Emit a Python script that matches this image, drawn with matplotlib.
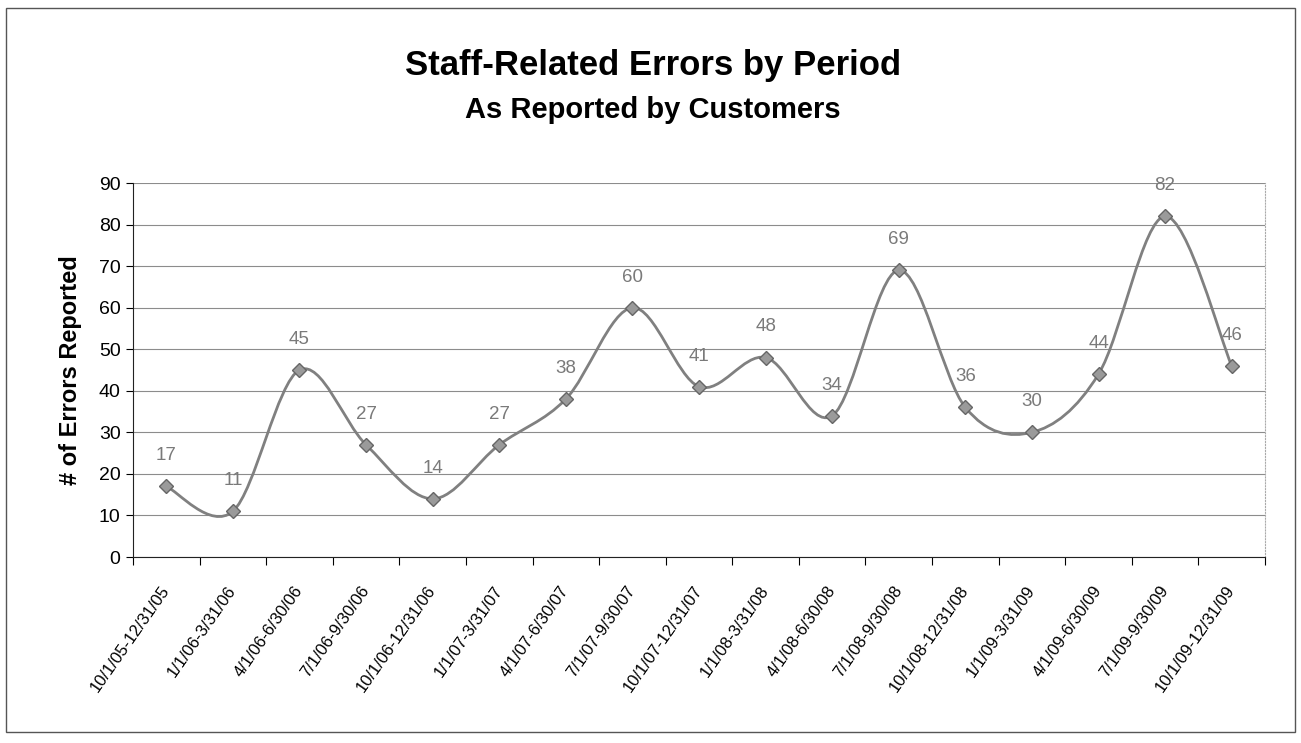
import matplotlib
matplotlib.use("Agg")
import matplotlib.pyplot as plt
from matplotlib.path import Path
from matplotlib.patches import PathPatch, Rectangle

plt.rcParams['font.family'] = ['Liberation Sans', 'DejaVu Sans']

periods = ["10/1/05-12/31/05", "1/1/06-3/31/06", "4/1/06-6/30/06", "7/1/06-9/30/06",
           "10/1/06-12/31/06", "1/1/07-3/31/07", "4/1/07-6/30/07", "7/1/07-9/30/07",
           "10/1/07-12/31/07", "1/1/08-3/31/08", "4/1/08-6/30/08", "7/1/08-9/30/08",
           "10/1/08-12/31/08", "1/1/09-3/31/09", "4/1/09-6/30/09", "7/1/09-9/30/09",
           "10/1/09-12/31/09"]
errors = [17, 11, 45, 27, 14, 27, 38, 60, 41, 48, 34, 69, 36, 30, 44, 82, 46]
y_ticks = [0, 10, 20, 30, 40, 50, 60, 70, 80, 90]

line_col = "#808080"

fig = plt.figure(figsize=(13.01, 7.43), dpi=100)
ax = fig.add_axes([133 / 1301, 1 - 557 / 743, 1132 / 1301, 374 / 743])

# outer chart frame
fig.patches.append(Rectangle((6 / 1301, 1 - 732 / 743), 1289 / 1301, 724 / 743,
                             transform=fig.transFigure, fill=False,
                             edgecolor="#555555", linewidth=1.0))

x = list(range(len(errors)))

# smoothed line like Excel (Catmull-Rom as cubic Bezier)
verts = [(x[0], errors[0])]
codes = [Path.MOVETO]
n = len(errors)
for i in range(n - 1):
    x0, y0 = (x[i - 1], errors[i - 1]) if i > 0 else (x[i], errors[i])
    x1, y1 = x[i], errors[i]
    x2, y2 = x[i + 1], errors[i + 1]
    x3, y3 = (x[i + 2], errors[i + 2]) if i + 2 < n else (x2, y2)
    c1 = (x1 + (x2 - x0) / 6, y1 + (y2 - y0) / 6)
    c2 = (x2 - (x3 - x1) / 6, y2 - (y3 - y1) / 6)
    verts += [c1, c2, (x2, y2)]
    codes += [Path.CURVE4] * 3
ax.add_patch(PathPatch(Path(verts, codes), facecolor="none",
                       edgecolor=line_col, linewidth=2.0, zorder=3))
ax.plot(x, errors, linestyle="none", marker="D", markersize=7,
        markerfacecolor="#9a9a9a", markeredgecolor="#666666", zorder=4)

for xi, v in zip(x, errors):
    ax.annotate(str(v), (xi, v), xytext=(0, 22), textcoords="offset points",
                ha="center", va="center", fontsize=13.5, color="#7a7a7a")

ax.set_xlim(-0.5, n - 0.5)
ax.set_ylim(0, 90)
ax.set_yticks(y_ticks)
ax.tick_params(axis="y", labelsize=14, length=5, width=0.8, pad=4)
ax.set_xticks(x)
ax.set_xticklabels(periods, rotation=55, ha="right", va="center",
                   rotation_mode="anchor", fontsize=12)
ax.tick_params(axis="x", which="major", length=0, pad=22)
ax.set_xticks([i - 0.5 for i in range(n + 1)], minor=True)
ax.tick_params(axis="x", which="minor", length=6, width=0.8)

ax.grid(axis="y", color="#8c8c8c", linewidth=0.8)
ax.set_axisbelow(True)
ax.spines["top"].set_visible(False)
ax.spines["right"].set_color("#aaaaaa")
ax.spines["right"].set_linestyle(":")
ax.spines["left"].set_color("#222222")
ax.spines["bottom"].set_color("#222222")

ax.set_ylabel("# of Errors Reported", fontsize=17, fontweight="bold", labelpad=12)

fig.text(0.502, 1 - 66 / 743, "Staff-Related Errors by Period", ha="center", va="center",
         fontsize=25, fontweight="bold")
fig.text(0.502, 1 - 110 / 743, "As Reported by Customers", ha="center", va="center",
         fontsize=21, fontweight="bold")

fig.savefig("out.png", dpi=100)
